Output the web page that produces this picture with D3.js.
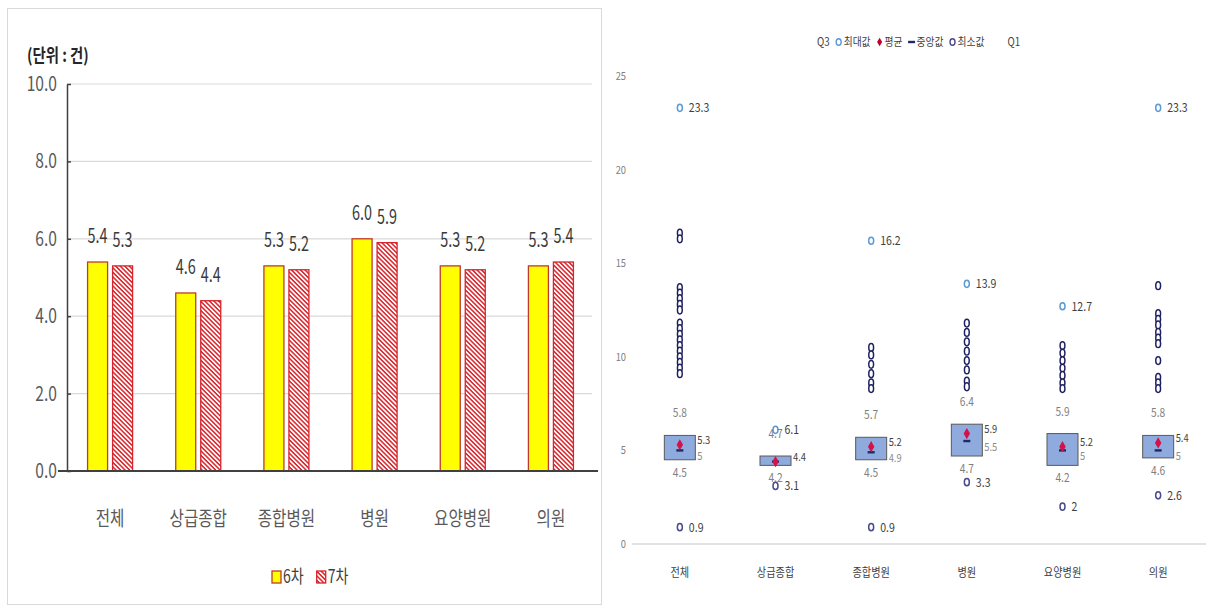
<!DOCTYPE html>
<html><head><meta charset="utf-8">
<script src="https://cdn.jsdelivr.net/npm/d3@7"></script>
<style>
html,body{margin:0;padding:0;background:#fff;}
svg{display:block;font-family:"Noto Sans CJK KR","Noto Sans",sans-serif;}
</style></head>
<body>
<svg id="chart" width="1206" height="607"></svg>
<script>
// ---------- data ----------
const categories = ['전체','상급종합','종합병원','병원','요양병원','의원'];
const seriesNames = ['6차','7차'];
const values6 = [5.4,4.6,5.3,6.0,5.3,5.3];
const values7 = [5.3,4.4,5.2,5.9,5.2,5.4];
const leftTicks = [0,2,4,6,8,10];
const unitLabel = '(단위 : 건)';

const q3Vals = [5.8,4.7,5.7,6.4,5.9,5.8];
const q1Vals = [4.5,4.2,4.5,4.7,4.2,4.6];
const meanVals = [5.3,4.4,5.2,5.9,5.2,5.4];
const medianVals = [5,4.4,4.9,5.5,5,5];
const maxVals = [23.3,6.1,16.2,13.9,12.7,23.3];
const minVals = [0.9,3.1,0.9,3.3,2,2.6];
const outlierVals = [
  [16.6,16.3,13.7,13.4,13.1,12.8,12.5,11.8,11.5,11.2,10.9,10.6,10.3,10.0,9.7,9.4,9.1],
  [],
  [10.5,10.1,9.6,9.1,8.6,8.3],
  [11.8,11.3,10.8,10.3,9.8,9.3,8.7,8.4],
  [10.6,10.2,9.8,9.4,9.0,8.6,8.3],
  [13.8,12.3,12.0,11.7,11.3,11.0,10.7,9.8,8.9,8.6,8.3]
];
const rightTicks = [0,5,10,15,20,25];
const rightLegend = ['Q3','최대값','평균','중앙값','최소값','Q1'];

const svg = d3.select('#chart');
const defs = svg.append('defs');
const pat = defs.append('pattern').attr('id','hatch').attr('patternUnits','userSpaceOnUse')
  .attr('width',3.2).attr('height',3.2).attr('patternTransform','rotate(45)');
pat.append('rect').attr('width',3.2).attr('height',3.2).attr('fill','#fff');
pat.append('rect').attr('width',3.2).attr('height',1.5).attr('fill','#D8232A');

function ctext(g, x, y, str, opts){
  const t = g.append('text').attr('transform',`translate(${x},${y}) scale(${opts.sx||1},1)`)
    .attr('text-anchor',opts.anchor||'middle').attr('font-size',opts.size)
    .attr('fill',opts.fill||'#404040').text(str);
  if(opts.weight) t.attr('font-weight',opts.weight);
  return t;
}

// ---------- left chart ----------
const L = svg.append('g');
L.append('rect').attr('x',7.5).attr('y',8.5).attr('width',594).attr('height',596)
  .attr('fill','none').attr('stroke','#D9D9D9');

const xL = d3.scaleBand().domain(categories).range([66,595]);
const yL = d3.scaleLinear().domain([0,10]).range([471,84]);

L.selectAll('.grid').data(leftTicks.filter(d=>d>0)).join('line')
  .attr('x1',67).attr('x2',592).attr('y1',d=>yL(d)).attr('y2',d=>yL(d))
  .attr('stroke','#D9D9D9').attr('stroke-width',1.2);
const yAxisL = d3.axisLeft(yL).tickValues(leftTicks).tickSize(0).tickFormat(d3.format('.1f'));
const ya = L.append('g').attr('transform','translate(67,0)').call(yAxisL);
ya.select('.domain').attr('stroke','#404040').attr('stroke-width',1.5);
ya.selectAll('.tick text').remove();
ya.selectAll('.tick').append('line').attr('x1',0).attr('x2',4).attr('stroke','#404040').attr('stroke-width',1.5);
leftTicks.forEach(d=>ctext(L,57,yL(d)+7,d3.format('.1f')(d),{size:20,sx:0.78,anchor:'end',fill:'#595959'}));

const barW = 20, gap = 2.5;
const bars = categories.map((c,i)=>[
  {cat:c, v:values6[i], s:0},
  {cat:c, v:values7[i], s:1}
]).flat();
L.selectAll('.bar').data(bars).join('rect')
  .attr('x',d=>xL(d.cat)+xL.bandwidth()/2 + (d.s===0 ? -gap-barW : gap))
  .attr('y',d=>yL(d.v)).attr('width',barW).attr('height',d=>yL(0)-yL(d.v))
  .attr('fill',d=>d.s===0?'#FFFF00':'url(#hatch)')
  .attr('stroke',d=>d.s===0?'#C0392B':'#D8232A').attr('stroke-width',1.3);
bars.forEach(d=>{
  const cx = xL(d.cat)+xL.bandwidth()/2 + (d.s===0 ? -gap-barW/2 : gap+barW/2);
  ctext(L,cx,yL(d.v)-19,d3.format('.1f')(d.v),{size:20,sx:0.72,fill:'#3A3A3A'});
});
L.append('line').attr('x1',58).attr('x2',598).attr('y1',yL(0)).attr('y2',yL(0))
  .attr('stroke','#404040').attr('stroke-width',2);
categories.forEach(c=>ctext(L,xL(c)+xL.bandwidth()/2,526,c,{size:20,sx:0.78,fill:'#595959'}));
ctext(L,27,62,unitLabel,{size:18,sx:0.8,anchor:'start',fill:'#262626',weight:'bold'});
let lx = 272;
seriesNames.forEach((s,i)=>{
  L.append('rect').attr('x',lx).attr('y',571).attr('width',9).attr('height',12)
    .attr('fill',i===0?'#FFFF00':'url(#hatch)').attr('stroke',i===0?'#C0392B':'#D8232A').attr('stroke-width',1.3);
  const t = ctext(L,lx+11,583,s,{size:18,sx:0.78,anchor:'start',fill:'#404040'});
  lx += 11 + t.node().getComputedTextLength()*0.78 + 13;
});

// ---------- right chart ----------
const R = svg.append('g');
const xR = d3.scaleBand().domain(categories).range([632,1206]);
const yR = d3.scaleLinear().domain([0,25]).range([544,76]);
const cxR = c=>xR(c)+xR.bandwidth()/2;
const boxW = 31;

rightTicks.forEach(d=>ctext(R,626,yR(d)+4,d,{size:11,sx:0.85,anchor:'end',fill:'#808080'}));
R.append('line').attr('x1',632).attr('x2',1206).attr('y1',yR(0)).attr('y2',yR(0))
  .attr('stroke','#D9D9D9').attr('stroke-width',1.5);
categories.forEach(c=>ctext(R,cxR(c),577,c,{size:12,sx:0.85,fill:'#404040'}));

categories.forEach((c,i)=>{
  const cx = cxR(c);
  outlierVals[i].forEach(v=>{
    R.append('ellipse').attr('cx',cx).attr('cy',yR(v)).attr('rx',2.4).attr('ry',3.9)
      .attr('fill','#fff').attr('stroke','#1F2060').attr('stroke-width',1.5);
  });
  R.append('rect').attr('x',cx-boxW/2).attr('y',yR(q3Vals[i])).attr('width',boxW)
    .attr('height',yR(q1Vals[i])-yR(q3Vals[i])).attr('fill','#8FAADC').attr('stroke','#595959').attr('stroke-width',1);
  R.append('rect').attr('x',cx-3.5).attr('y',yR(medianVals[i])-1.2).attr('width',7).attr('height',2.4).attr('fill','#1F2A6B');
  R.append('path').attr('d',d3.symbol(d3.symbolDiamond,36)()).attr('transform',`translate(${cx},${yR(meanVals[i])})`).attr('fill','#D3124A');
  R.append('ellipse').attr('cx',cx).attr('cy',yR(maxVals[i])).attr('rx',2.5).attr('ry',3.6)
    .attr('fill','#fff').attr('stroke','#5B9BD5').attr('stroke-width',1.5);
  R.append('ellipse').attr('cx',cx).attr('cy',yR(minVals[i])).attr('rx',2.5).attr('ry',3.6)
    .attr('fill','#fff').attr('stroke','#4A4A8E').attr('stroke-width',1.5);
  ctext(R,cx+9,yR(maxVals[i])+4.5,maxVals[i],{size:12,sx:0.88,anchor:'start',fill:'#404040'});
  ctext(R,cx+9,yR(minVals[i])+4.5,minVals[i],{size:12,sx:0.88,anchor:'start',fill:'#404040'});
  ctext(R,cx,yR(q3Vals[i])-18,q3Vals[i],{size:12,sx:0.85,fill:'#7F7F7F'});
  ctext(R,cx,yR(q1Vals[i])+17,q1Vals[i],{size:12,sx:0.85,fill:'#7F7F7F'});
  ctext(R,cx+boxW/2+2,yR(meanVals[i])-0.5,meanVals[i],{size:11,sx:0.85,anchor:'start',fill:'#404040'});
  if(medianVals[i]!==meanVals[i])
    ctext(R,cx+boxW/2+2,yR(medianVals[i])+10,medianVals[i],{size:11,sx:0.85,anchor:'start',fill:'#8C8C8C'});
});

let rx = 806;
rightLegend.forEach((s,i)=>{
  const mx = rx+6, my = 42;
  if(s==='최대값') R.append('ellipse').attr('cx',mx).attr('cy',my).attr('rx',2.5).attr('ry',3.2).attr('fill','#fff').attr('stroke','#5B9BD5').attr('stroke-width',1.4);
  if(s==='최소값') R.append('ellipse').attr('cx',mx).attr('cy',my).attr('rx',2.5).attr('ry',3.2).attr('fill','#fff').attr('stroke','#4A4A8E').attr('stroke-width',1.4);
  if(s==='평균') R.append('path').attr('d',d3.symbol(d3.symbolDiamond,22)()).attr('transform',`translate(${mx},${my})`).attr('fill','#C00030');
  if(s==='중앙값') R.append('rect').attr('x',mx-3.5).attr('y',my-1.2).attr('width',7).attr('height',2.4).attr('fill','#1F2A6B');
  const t = ctext(R,rx+11,my+4,s,{size:11.5,sx:0.85,anchor:'start',fill:'#404040'});
  rx += 11 + t.node().getComputedTextLength()*0.85 + (s==='최소값'?12:3);
});
</script>
</body></html>
